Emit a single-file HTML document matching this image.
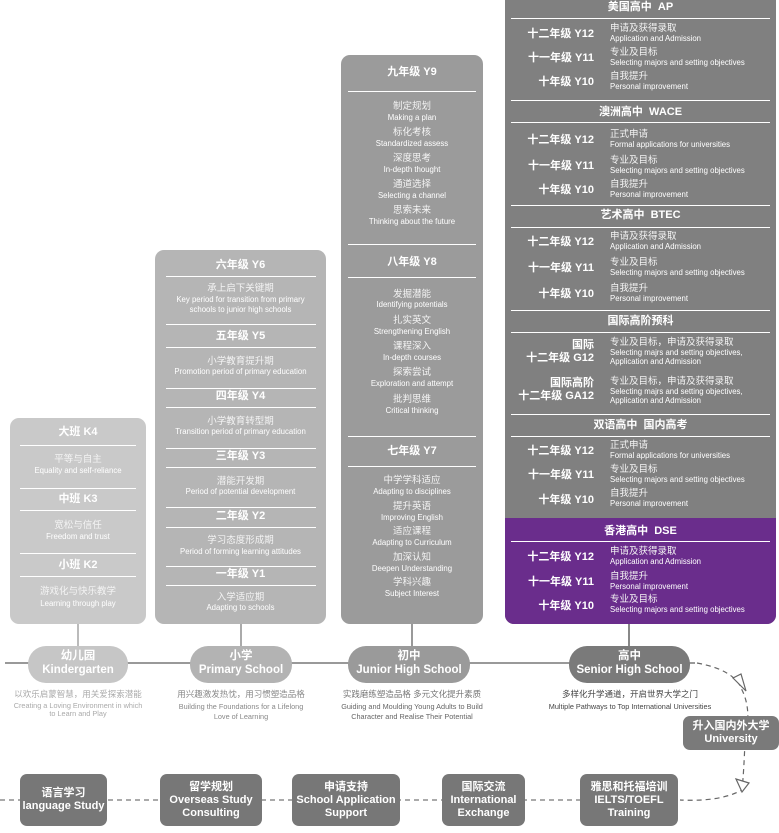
<!DOCTYPE html>
<html><head><meta charset="utf-8"><style>
*{margin:0;padding:0;box-sizing:border-box}
body{width:779px;height:833px;background:#fff;position:relative;overflow:hidden;font-family:"Liberation Sans","Noto Sans CJK SC",sans-serif;color:#fff}
.b{position:absolute;border-radius:9px}
.c{position:absolute;text-align:center;white-space:nowrap;line-height:1}
.h{font-weight:bold;font-size:11px}
.cn{font-size:9.5px;color:#f4f4f4}
.en{font-size:7.8px}
.ln{position:absolute;height:1px;background:#fff}
.lab{position:absolute;left:505px;width:89px;text-align:right;font-weight:bold;font-size:11px;line-height:1;white-space:nowrap}
.tx{position:absolute;left:610px;white-space:nowrap;line-height:1}
.tx .cn{display:block;font-size:9.5px}
.tx .en{display:block;font-size:7.8px;margin-top:1px}
.pill{position:absolute;border-radius:18px;text-align:center;font-weight:bold;font-size:11.5px;line-height:14px;padding-top:3px}
.box{position:absolute;background:#777;border-radius:7px;text-align:center;font-weight:bold;font-size:11px;line-height:13px;display:flex;align-items:center;justify-content:center}
.d{position:absolute;text-align:center;white-space:nowrap;line-height:1;color:#555}
</style></head><body>

<div style="position:absolute;left:5px;top:662px;width:690px;height:2px;background:#999"></div>
<div style="position:absolute;left:77px;top:620px;width:2px;height:30px;background:#bbb"></div>
<div style="position:absolute;left:240px;top:620px;width:2px;height:30px;background:#aaa"></div>
<div style="position:absolute;left:411px;top:620px;width:2px;height:30px;background:#999"></div>
<div style="position:absolute;left:628px;top:620px;width:2px;height:30px;background:#888"></div>

<div class="b" style="left:10px;top:418px;width:136px;height:206px;background:#c9c9c9"></div>
<div class="c h" style="left:10px;width:136px;top:427px">大班 K4</div>
<div class="ln" style="left:20px;width:116px;top:445px"></div>
<div class="c cn" style="left:10px;width:136px;top:455px">平等与自主</div>
<div class="c en" style="left:10px;width:136px;top:467px">Equality and self-reliance</div>
<div class="ln" style="left:20px;width:116px;top:488px"></div>
<div class="c h" style="left:10px;width:136px;top:494px">中班 K3</div>
<div class="ln" style="left:20px;width:116px;top:510px"></div>
<div class="c cn" style="left:10px;width:136px;top:521px">宽松与信任</div>
<div class="c en" style="left:10px;width:136px;top:533px">Freedom and trust</div>
<div class="ln" style="left:20px;width:116px;top:553px"></div>
<div class="c h" style="left:10px;width:136px;top:560px">小班 K2</div>
<div class="ln" style="left:20px;width:116px;top:576px"></div>
<div class="c cn" style="left:10px;width:136px;top:587px">游戏化与快乐教学</div>
<div class="c en" style="left:10px;width:136px;top:600px">Learning through play</div>

<div class="b" style="left:155px;top:250px;width:171px;height:374px;background:#b5b5b5"></div>
<div class="c h" style="left:155px;width:171px;top:260px">六年级 Y6</div>
<div class="ln" style="left:166px;width:150px;top:276px"></div>
<div class="c cn" style="left:155px;width:171px;top:284px">承上启下关键期</div>
<div class="c en" style="left:155px;width:171px;top:296px">Key period for transition from primary</div>
<div class="c en" style="left:155px;width:171px;top:306px">schools to junior high schools</div>
<div class="ln" style="left:166px;width:150px;top:324px"></div>
<div class="c h" style="left:155px;width:171px;top:331px">五年级 Y5</div>
<div class="ln" style="left:166px;width:150px;top:347px"></div>
<div class="c cn" style="left:155px;width:171px;top:357px">小学教育提升期</div>
<div class="c en" style="left:155px;width:171px;top:368px">Promotion period of primary education</div>
<div class="ln" style="left:166px;width:150px;top:388px"></div>
<div class="c h" style="left:155px;width:171px;top:391px">四年级 Y4</div>
<div class="ln" style="left:166px;width:150px;top:407px"></div>
<div class="c cn" style="left:155px;width:171px;top:417px">小学教育转型期</div>
<div class="c en" style="left:155px;width:171px;top:428px">Transition period of primary education</div>
<div class="ln" style="left:166px;width:150px;top:448px"></div>
<div class="c h" style="left:155px;width:171px;top:451px">三年级 Y3</div>
<div class="ln" style="left:166px;width:150px;top:467px"></div>
<div class="c cn" style="left:155px;width:171px;top:477px">潜能开发期</div>
<div class="c en" style="left:155px;width:171px;top:488px">Period of potential development</div>
<div class="ln" style="left:166px;width:150px;top:507px"></div>
<div class="c h" style="left:155px;width:171px;top:511px">二年级 Y2</div>
<div class="ln" style="left:166px;width:150px;top:527px"></div>
<div class="c cn" style="left:155px;width:171px;top:536px">学习态度形成期</div>
<div class="c en" style="left:155px;width:171px;top:548px">Period of forming learning attitudes</div>
<div class="ln" style="left:166px;width:150px;top:566px"></div>
<div class="c h" style="left:155px;width:171px;top:569px">一年级 Y1</div>
<div class="ln" style="left:166px;width:150px;top:585px"></div>
<div class="c cn" style="left:155px;width:171px;top:593px">入学适应期</div>
<div class="c en" style="left:155px;width:171px;top:604px">Adapting to schools</div>

<div class="b" style="left:341px;top:55px;width:142px;height:569px;background:#9b9b9b"></div>
<div class="c h" style="left:341px;width:142px;top:67px">九年级 Y9</div>
<div class="ln" style="left:348px;width:128px;top:91px"></div>
<div class="c cn" style="left:341px;width:142px;top:102px">制定规划</div>
<div class="c en" style="left:341px;width:142px;top:114px">Making a plan</div>
<div class="c cn" style="left:341px;width:142px;top:128px">标化考核</div>
<div class="c en" style="left:341px;width:142px;top:140px">Standardized assess</div>
<div class="c cn" style="left:341px;width:142px;top:154px">深度思考</div>
<div class="c en" style="left:341px;width:142px;top:166px">In-depth thought</div>
<div class="c cn" style="left:341px;width:142px;top:180px">通道选择</div>
<div class="c en" style="left:341px;width:142px;top:192px">Selecting a channel</div>
<div class="c cn" style="left:341px;width:142px;top:206px">思索未来</div>
<div class="c en" style="left:341px;width:142px;top:218px">Thinking about the future</div>
<div class="ln" style="left:348px;width:128px;top:244px"></div>
<div class="c h" style="left:341px;width:142px;top:257px">八年级 Y8</div>
<div class="ln" style="left:348px;width:128px;top:277px"></div>
<div class="c cn" style="left:341px;width:142px;top:290px">发掘潜能</div>
<div class="c en" style="left:341px;width:142px;top:301px">Identifying potentials</div>
<div class="c cn" style="left:341px;width:142px;top:316px">扎实英文</div>
<div class="c en" style="left:341px;width:142px;top:328px">Strengthening English</div>
<div class="c cn" style="left:341px;width:142px;top:342px">课程深入</div>
<div class="c en" style="left:341px;width:142px;top:354px">In-depth courses</div>
<div class="c cn" style="left:341px;width:142px;top:368px">探索尝试</div>
<div class="c en" style="left:341px;width:142px;top:380px">Exploration and attempt</div>
<div class="c cn" style="left:341px;width:142px;top:395px">批判思维</div>
<div class="c en" style="left:341px;width:142px;top:407px">Critical thinking</div>
<div class="ln" style="left:348px;width:128px;top:436px"></div>
<div class="c h" style="left:341px;width:142px;top:446px">七年级 Y7</div>
<div class="ln" style="left:348px;width:128px;top:466px"></div>
<div class="c cn" style="left:341px;width:142px;top:476px">中学学科适应</div>
<div class="c en" style="left:341px;width:142px;top:488px">Adapting to disciplines</div>
<div class="c cn" style="left:341px;width:142px;top:502px">提升英语</div>
<div class="c en" style="left:341px;width:142px;top:514px">Improving English</div>
<div class="c cn" style="left:341px;width:142px;top:527px">适应课程</div>
<div class="c en" style="left:341px;width:142px;top:539px">Adapting to Curriculum</div>
<div class="c cn" style="left:341px;width:142px;top:553px">加深认知</div>
<div class="c en" style="left:341px;width:142px;top:565px">Deepen Understanding</div>
<div class="c cn" style="left:341px;width:142px;top:578px">学科兴趣</div>
<div class="c en" style="left:341px;width:142px;top:590px">Subject Interest</div>

<div class="b" style="left:505px;top:-10px;width:271px;height:634px;background:#808080"></div>
<div class="b" style="left:505px;top:518px;width:271px;height:106px;background:#6a2d8c;border-radius:0 0 9px 9px"></div>

<div class="c h" style="left:505px;width:271px;top:2px">美国高中&nbsp; AP</div>
<div class="ln" style="left:511px;width:259px;top:18px"></div>
<div class="lab" style="top:29px">十二年级 Y12</div><div class="tx" style="top:24px"><span class="cn">申请及获得录取</span><span class="en">Application and Admission</span></div>
<div class="lab" style="top:53px">十一年级 Y11</div><div class="tx" style="top:48px"><span class="cn">专业及目标</span><span class="en">Selecting majors and setting objectives</span></div>
<div class="lab" style="top:77px">十年级 Y10</div><div class="tx" style="top:72px"><span class="cn">自我提升</span><span class="en">Personal improvement</span></div>
<div class="ln" style="left:511px;width:259px;top:100px"></div>
<div class="c h" style="left:505px;width:271px;top:107px">澳洲高中&nbsp; WACE</div>
<div class="ln" style="left:511px;width:259px;top:122px"></div>
<div class="lab" style="top:135px">十二年级 Y12</div><div class="tx" style="top:130px"><span class="cn">正式申请</span><span class="en">Formal applications for universities</span></div>
<div class="lab" style="top:161px">十一年级 Y11</div><div class="tx" style="top:156px"><span class="cn">专业及目标</span><span class="en">Selecting majors and setting objectives</span></div>
<div class="lab" style="top:185px">十年级 Y10</div><div class="tx" style="top:180px"><span class="cn">自我提升</span><span class="en">Personal improvement</span></div>
<div class="ln" style="left:511px;width:259px;top:205px"></div>
<div class="c h" style="left:505px;width:271px;top:210px">艺术高中&nbsp; BTEC</div>
<div class="ln" style="left:511px;width:259px;top:227px"></div>
<div class="lab" style="top:237px">十二年级 Y12</div><div class="tx" style="top:232px"><span class="cn">申请及获得录取</span><span class="en">Application and Admission</span></div>
<div class="lab" style="top:263px">十一年级 Y11</div><div class="tx" style="top:258px"><span class="cn">专业及目标</span><span class="en">Selecting majors and setting objectives</span></div>
<div class="lab" style="top:289px">十年级 Y10</div><div class="tx" style="top:284px"><span class="cn">自我提升</span><span class="en">Personal improvement</span></div>
<div class="ln" style="left:511px;width:259px;top:310px"></div>
<div class="c h" style="left:505px;width:271px;top:316px">国际高阶预科</div>
<div class="ln" style="left:511px;width:259px;top:332px"></div>
<div class="lab" style="top:340px">国际</div>
<div class="lab" style="top:353px">十二年级 G12</div>
<div class="tx" style="top:338px"><span class="cn">专业及目标，申请及获得录取</span><span class="en">Selecting majrs and setting objectives,</span><span class="en" style="margin-top:2px">Application and Admission</span></div>
<div class="lab" style="top:378px">国际高阶</div>
<div class="lab" style="top:391px">十二年级 GA12</div>
<div class="tx" style="top:377px"><span class="cn">专业及目标，申请及获得录取</span><span class="en">Selecting majrs and setting objectives,</span><span class="en" style="margin-top:2px">Application and Admission</span></div>
<div class="ln" style="left:511px;width:259px;top:414px"></div>
<div class="c h" style="left:505px;width:271px;top:420px">双语高中&nbsp; 国内高考</div>
<div class="ln" style="left:511px;width:259px;top:436px"></div>
<div class="lab" style="top:446px">十二年级 Y12</div><div class="tx" style="top:441px"><span class="cn">正式申请</span><span class="en">Formal applications for universities</span></div>
<div class="lab" style="top:470px">十一年级 Y11</div><div class="tx" style="top:465px"><span class="cn">专业及目标</span><span class="en">Selecting majors and setting objectives</span></div>
<div class="lab" style="top:495px">十年级 Y10</div><div class="tx" style="top:489px"><span class="cn">自我提升</span><span class="en">Personal improvement</span></div>
<div class="c h" style="left:505px;width:271px;top:526px">香港高中&nbsp; DSE</div>
<div class="ln" style="left:511px;width:259px;top:541px"></div>
<div class="lab" style="top:552px">十二年级 Y12</div><div class="tx" style="top:547px"><span class="cn">申请及获得录取</span><span class="en">Application and Admission</span></div>
<div class="lab" style="top:577px">十一年级 Y11</div><div class="tx" style="top:572px"><span class="cn">自我提升</span><span class="en">Personal improvement</span></div>
<div class="lab" style="top:601px">十年级 Y10</div><div class="tx" style="top:595px"><span class="cn">专业及目标</span><span class="en">Selecting majors and setting objectives</span></div>

<div class="pill" style="left:28px;top:646px;width:100px;height:37px;background:#c6c6c6">幼儿园<br>Kindergarten</div>
<div class="pill" style="left:190px;top:646px;width:102px;height:37px;background:#b3b3b3">小学<br>Primary School</div>
<div class="pill" style="left:348px;top:646px;width:122px;height:37px;background:#9a9a9a">初中<br>Junior High School</div>
<div class="pill" style="left:569px;top:646px;width:121px;height:37px;background:#7a7a7a">高中<br>Senior High School</div>

<div class="d" style="left:0;width:156px;top:690px;font-size:8.5px;color:#aaa">以欢乐启蒙智慧，用关爱探索潜能</div>
<div class="d" style="left:0;width:156px;top:702px;font-size:7.3px;color:#aaa">Creating a Loving Environment in which</div>
<div class="d" style="left:0;width:156px;top:710px;font-size:7.3px;color:#aaa">to Learn and Play</div>
<div class="d" style="left:160px;width:162px;top:690px;font-size:8.5px;color:#888">用兴趣激发热忱，用习惯塑造品格</div>
<div class="d" style="left:160px;width:162px;top:703px;font-size:7.3px;color:#888">Building the Foundations for a Lifelong</div>
<div class="d" style="left:160px;width:162px;top:713px;font-size:7.3px;color:#888">Love of Learning</div>
<div class="d" style="left:330px;width:164px;top:690px;font-size:8.5px;color:#777">实践磨练塑造品格 多元文化提升素质</div>
<div class="d" style="left:330px;width:164px;top:703px;font-size:7.3px;color:#666">Guiding and Moulding Young Adults to Build</div>
<div class="d" style="left:330px;width:164px;top:713px;font-size:7.3px;color:#666">Character and Realise Their Potential</div>
<div class="d" style="left:530px;width:200px;top:690px;font-size:8.5px;color:#444">多样化升学通道，开启世界大学之门</div>
<div class="d" style="left:530px;width:200px;top:703px;font-size:7.3px;color:#444">Multiple Pathways to Top International Universities</div>

<svg style="position:absolute;left:0;top:0" width="779" height="833">
<path d="M697 663 Q735 670 742 690 Q752 710 745 740 Q744 770 742 790 Q720 802 680 800" fill="none" stroke="#666" stroke-width="1.2" stroke-dasharray="5 4"/>
<path d="M733 678 L746 691 L741 674 Z" fill="#fff" stroke="#666" stroke-width="1.2"/>
<path d="M736 779 L742 792 L749 783 Z" fill="#fff" stroke="#666" stroke-width="1.2"/>
<line x1="0" y1="800" x2="580" y2="800" stroke="#777" stroke-width="1.2" stroke-dasharray="5 4"/>
</svg>

<div class="box" style="left:683px;top:716px;width:96px;height:34px;background:#7a7a7a">升入国内外大学<br>University</div>

<div class="box" style="left:20px;top:774px;width:87px;height:52px">语言学习<br>language Study</div>
<div class="box" style="left:160px;top:774px;width:102px;height:52px">留学规划<br>Overseas Study<br>Consulting</div>
<div class="box" style="left:292px;top:774px;width:108px;height:52px">申请支持<br>School Application<br>Support</div>
<div class="box" style="left:442px;top:774px;width:83px;height:52px">国际交流<br>International<br>Exchange</div>
<div class="box" style="left:580px;top:774px;width:98px;height:52px">雅思和托福培训<br>IELTS/TOEFL<br>Training</div>
</body></html>
